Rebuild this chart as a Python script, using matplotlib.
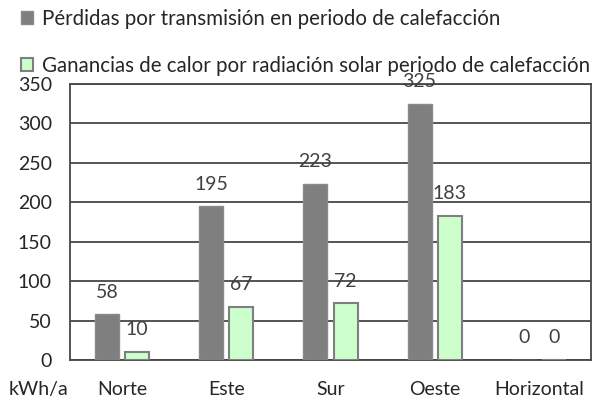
import matplotlib.pyplot as plt
import numpy as np
from matplotlib.patches import Patch

plt.rcParams["font.family"] = ["Lato", "DejaVu Sans"]

categories = ["Norte", "Este", "Sur", "Oeste", "Horizontal"]
perdidas = [58, 195, 223, 325, 0]
ganancias = [10, 67, 72, 183, 0]
label_perdidas = "Pérdidas por transmisión en periodo de calefacción"
label_ganancias = "Ganancias de calor por radiación solar periodo de calefacción"
yticks = [0, 50, 100, 150, 200, 250, 300, 350]


def main() -> None:
    fig = plt.figure(figsize=(5.97, 4.0), dpi=100)
    ax = fig.add_axes([70 / 597, 40 / 400, 521 / 597, 276 / 400])

    dark = "#7F7F7F"
    green = "#CCFFCC"
    grid_col = "#474747"
    txt = "#262626"

    x = np.arange(len(categories))
    w = 0.23
    off = 0.145

    ax.bar(x - off, perdidas, w, color=dark, edgecolor="#8A8A8A", linewidth=1.0, zorder=3)
    ax.bar(x + off, ganancias, w, color=green, edgecolor="#7F7F7F", linewidth=1.5, zorder=3)

    # value labels
    for xi, v in zip(x - off, perdidas):
        ax.annotate(str(v), xy=(xi, v), xytext=(0, 16.0), textcoords="offset points",
                    ha="center", va="center", fontsize=14, color="#404040", zorder=4)
    for xi, v in zip(x + off, ganancias):
        ax.annotate(str(v), xy=(xi, v), xytext=(0, 16.0), textcoords="offset points",
                    ha="center", va="center", fontsize=14, color="#404040", zorder=4)

    ax.set_xlim(-0.5, len(categories) - 0.5)
    ax.set_ylim(0, 350)
    ax.set_yticks(yticks)
    ax.set_xticks(x)
    ax.set_xticklabels(categories)
    ax.tick_params(axis="both", length=0, labelsize=14, labelcolor=txt)
    ax.tick_params(axis="y", pad=13)
    ax.tick_params(axis="x", pad=15)

    ax.grid(axis="y", color=grid_col, linewidth=1.3, zorder=1)
    for s in ax.spines.values():
        s.set_color(grid_col)
        s.set_linewidth(1.3)

    fig.text(38 / 597, 1 - 390 / 400, "kWh/a", ha="center", va="center",
             fontsize=14, color=txt)

    handles = [
        Patch(facecolor=dark, edgecolor="#8A8A8A", linewidth=1.0),
        Patch(facecolor=green, edgecolor="#7F7F7F", linewidth=1.5),
    ]
    fig.legend(handles, [label_perdidas, label_ganancias], loc="upper left",
               bbox_to_anchor=(21 / 597, 1 - 9 / 400), frameon=False, fontsize=14.8,
               handlelength=0.6, handleheight=0.6, handletextpad=0.4,
               labelspacing=1.3, borderpad=0, borderaxespad=0,
               labelcolor=txt)

    fig.savefig("out.png", dpi=100)
    plt.close(fig)


if __name__ == "__main__":
    main()
